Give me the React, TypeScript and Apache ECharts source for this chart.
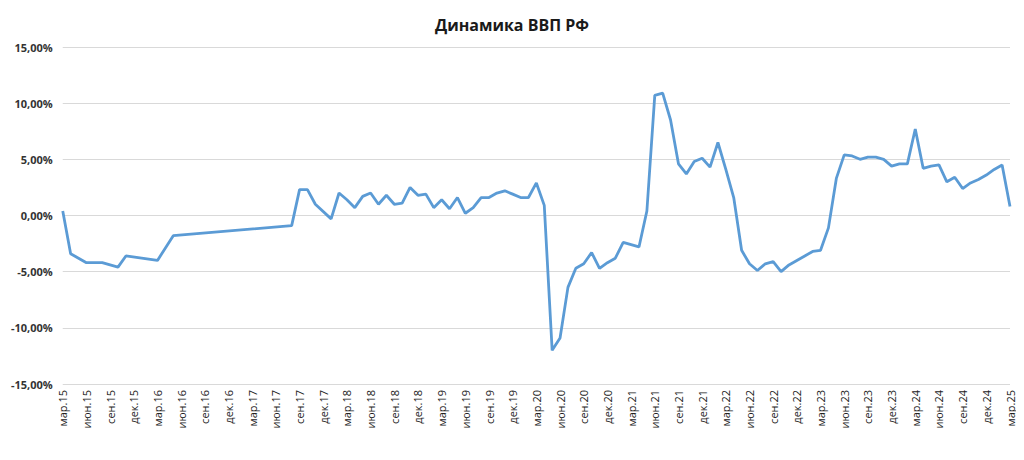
import React, { useEffect, useRef } from 'react';
import * as echarts from 'echarts';

const monthNames = ['янв', 'фев', 'мар', 'апр', 'май', 'июн', 'июл', 'авг', 'сен', 'окт', 'ноя', 'дек'];

// monthly categories from мар.15 to мар.25
const months: string[] = [];
for (let i = 0; i <= 120; i++) {
  const m = (2 + i) % 12;
  const y = 15 + Math.floor((2 + i) / 12);
  months.push(`${monthNames[m]}.${y}`);
}

// ВВП, % г/г (null = no observation, the line joins over it)
const gdp2015 = [0.4, -3.4, null, -4.2, -4.2, -4.2, null, -4.6, -3.6, null];
const gdp2016 = [null, null, -4.0, null, -1.8, null, null, null, null, null, null, null];
const gdp2017 = [null, null, null, null, null, null, null, -0.9, 2.3, 2.3, 1.0, null];
const gdp2018 = [-0.3, 2.0, 1.4, 0.7, 1.7, 2.0, 1.0, 1.8, 1.0, 1.1, 2.5, 1.8];
const gdp2019 = [1.9, 0.7, 1.4, 0.6, 1.6, 0.2, 0.7, 1.6, 1.6, 2.0, 2.2, 1.9];
const gdp2020 = [1.6, 1.6, 2.9, 0.9, -12.0, -10.9, -6.4, -4.7, -4.3, -3.3, -4.7, -4.2];
const gdp2021 = [-3.8, -2.4, -2.6, -2.8, 0.4, 10.7, 10.9, 8.5, 4.6, 3.7, 4.8, 5.1];
const gdp2022 = [4.3, 6.5, 4.1, 1.6, -3.1, -4.3, -4.9, -4.3, -4.1, -5.0, -4.4, -4.0];
const gdp2023 = [-3.6, -3.2, -3.1, -1.1, 3.3, 5.4, 5.3, 5.0, 5.2, 5.2, 5.0, 4.4];
const gdp2024 = [4.6, 4.6, 7.7, 4.2, 4.4, 4.5, 3.0, 3.4, 2.4, 2.9, 3.2, 3.6];
const gdp2025 = [4.1, 4.5, 0.8];

const gdp = [
  ...gdp2015, ...gdp2016, ...gdp2017, ...gdp2018, ...gdp2019, ...gdp2020,
  ...gdp2021, ...gdp2022, ...gdp2023, ...gdp2024, ...gdp2025,
];

const App: React.FC = () => {
  const chartRef = useRef<HTMLDivElement>(null);

  useEffect(() => {
    if (!chartRef.current) return;
    const chart = echarts.init(chartRef.current, undefined, { renderer: 'svg' });
    const option = {
      animation: false,
      backgroundColor: '#ffffff',
      title: {
        text: 'Динамика ВВП РФ',
        left: 'center',
        top: 4,
        textStyle: { fontFamily: 'Open Sans', fontSize: 16, fontWeight: 'bold', color: '#1a1a1a' },
      },
      grid: { left: 54, right: 6, top: 39, bottom: 68 },
      xAxis: {
        type: 'category',
        data: months,
        boundaryGap: false,
        axisLine: { show: false },
        axisTick: { show: false },
        axisLabel: {
          interval: 2,
          rotate: 90,
          margin: 6,
          fontFamily: 'Open Sans',
          fontSize: 11,
          color: '#222',
        },
      },
      yAxis: {
        type: 'value',
        min: -15,
        max: 15,
        interval: 5,
        axisLine: { show: false },
        axisTick: { show: false },
        splitLine: { lineStyle: { color: '#d9d9d9', width: 1 } },
        axisLabel: {
          margin: 10,
          fontFamily: 'Open Sans',
          fontSize: 11,
          fontWeight: 'bold',
          color: '#333',
          formatter: (v: number) => `${v.toFixed(2).replace('.', ',')}%`,
        },
      },
      series: [
        {
          type: 'line',
          data: gdp,
          connectNulls: true,
          showSymbol: false,
          symbol: 'none',
          lineStyle: { color: '#5b9bd5', width: 2.8 },
        },
      ],
    };
    chart.setOption(option as any);
    return () => {
      chart.dispose();
    };
  }, []);

  return <div ref={chartRef} style={{ width: 1008, height: 444 }} />;
};

export default App;
